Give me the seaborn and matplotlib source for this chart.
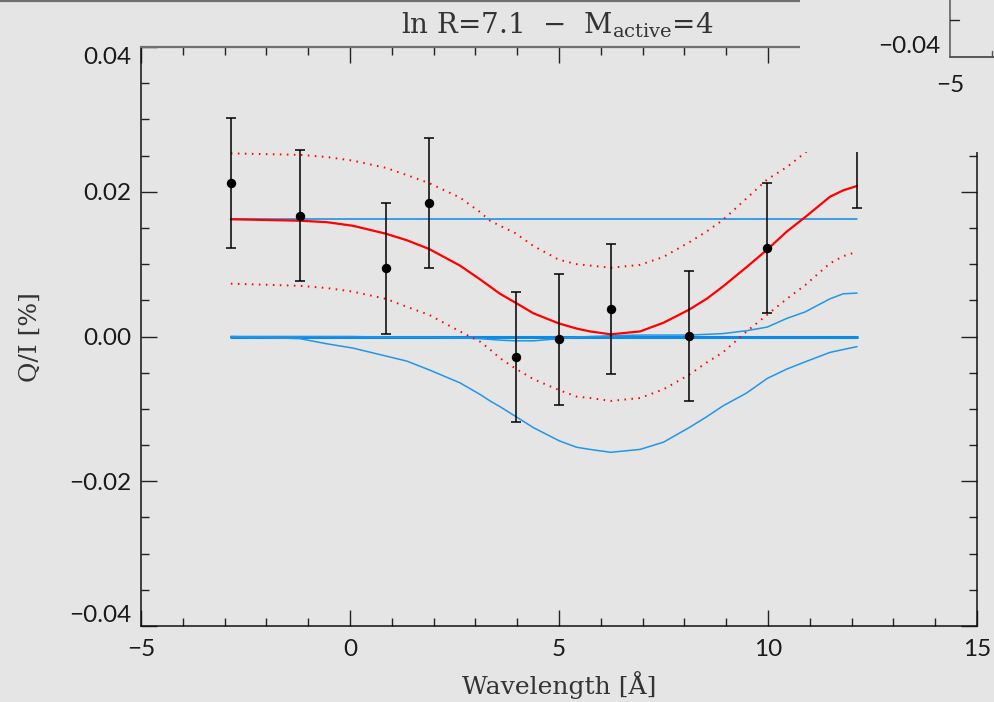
import matplotlib
matplotlib.use("Agg")
import matplotlib.pyplot as plt
import seaborn as sns
from matplotlib.patches import Rectangle
from matplotlib.lines import Line2D
from matplotlib.ticker import MultipleLocator

# ---------------- data ----------------
x_obs = [-2.85, -1.20, 0.86, 1.89, 3.96, 5.01, 6.25, 8.10, 9.98, 12.12]
y_obs = [0.0212, 0.0167, 0.0094, 0.0184, -0.0028, -0.0004, 0.0038, 0.0001, 0.0122, 0.0268]
err_obs = [0.0090, 0.0090, 0.0090, 0.0090, 0.0090, 0.0090, 0.0090, 0.0090, 0.0090, 0.0090]

x_model = [-2.85, -1.20, -0.56, 0.07, 0.86, 1.36, 1.89, 2.63, 3.11, 3.35,
           3.59, 3.95, 4.39, 5.00, 5.42, 5.74, 6.24, 6.94, 7.50, 8.11,
           8.53, 8.92, 9.49, 9.98, 10.45, 10.89, 11.48, 11.80, 12.13]
model_fit = [0.0162, 0.0160, 0.0158, 0.0153, 0.0142, 0.0133, 0.0121, 0.0098, 0.0079, 0.0069,
             0.0059, 0.0047, 0.0032, 0.0018, 0.0011, 0.0007, 0.0003, 0.0007, 0.0019, 0.0037,
             0.0052, 0.0069, 0.0096, 0.0120, 0.0145, 0.0165, 0.0193, 0.0202, 0.0208]
model_upper = [0.0253, 0.0251, 0.0248, 0.0243, 0.0233, 0.0223, 0.0212, 0.0192, 0.0172, 0.0160,
               0.0153, 0.0143, 0.0125, 0.0106, 0.0100, 0.0098, 0.0095, 0.0099, 0.0110, 0.0130,
               0.0145, 0.0161, 0.0191, 0.0217, 0.0234, 0.0254, 0.0283, 0.0292, 0.0298]
model_lower = [0.0073, 0.0070, 0.0067, 0.0062, 0.0052, 0.0041, 0.0030, 0.0007, -0.0007, -0.0018,
               -0.0030, -0.0044, -0.0059, -0.0074, -0.0083, -0.0085, -0.0089, -0.0085, -0.0073, -0.0053,
               -0.0036, -0.0022, 0.0007, 0.0030, 0.0052, 0.0071, 0.0101, 0.0111, 0.0117]
blue_curve_a = [0.0000, 0.0000, 0.0000, 0.0000, -0.0001, -0.0001, -0.0001, -0.0002, -0.0003, -0.0004,
                -0.0005, -0.0006, -0.0006, -0.0003, -0.0001, 0.0000, 0.0001, 0.0002, 0.0002, 0.0002,
                0.0003, 0.0004, 0.0008, 0.0013, 0.0025, 0.0034, 0.0052, 0.0059, 0.0060]
blue_curve_b = [0.0000, -0.0003, -0.0010, -0.0016, -0.0027, -0.0034, -0.0046, -0.0064, -0.0080, -0.0089,
                -0.0097, -0.0110, -0.0126, -0.0144, -0.0153, -0.0156, -0.0160, -0.0156, -0.0146, -0.0126,
                -0.0111, -0.0096, -0.0078, -0.0058, -0.0045, -0.0035, -0.0022, -0.0018, -0.0014]
blue_level_high = 0.0163
blue_level_zero = 0.0

xticks = [-5, 0, 5, 10, 15]
xtick_labels = ["\u22125", "0", "5", "10", "15"]
yticks = [-0.04, -0.02, 0.0, 0.02, 0.04]
ytick_labels = ["\u22120.04", "\u22120.02", "0.00", "0.02", "0.04"]
title_text = r"ln R=7.1  $-$  M$_{\mathrm{active}}$=4"
xlabel_text = "Wavelength [\u00c5]"
ylabel_text = "Q/I [%]"

# ---------------- style ----------------
sns.set_style("ticks")
plt.rcParams['font.family'] = ['DejaVu Sans']
plt.rcParams['mathtext.fontset'] = 'dejavuserif'
BG = '#e5e5e5'
RED = '#ff0000'
BLUE = '#0a8ce6'
SERIF = 'DejaVu Serif'
TICKFONT = dict(family=['Lato', 'DejaVu Sans'], weight='normal', size=17.5)

W, H = 994, 702
fig = plt.figure(figsize=(W / 100, H / 100), dpi=100, facecolor=BG)
ax = fig.add_axes([141 / W, 76 / H, 836 / W, 579 / H])
ax.set_facecolor(BG)

# curves
sns.lineplot(x=x_model, y=model_fit, color=RED, lw=1.6, ax=ax, sort=False, estimator=None, zorder=3)
sns.lineplot(x=x_model, y=model_upper, color=RED, lw=1.4, ls=(0, (0.8, 2.8)), ax=ax,
             sort=False, estimator=None, zorder=3)
sns.lineplot(x=x_model, y=model_lower, color=RED, lw=1.4, ls=(0, (0.8, 2.8)), ax=ax,
             sort=False, estimator=None, zorder=3)
sns.lineplot(x=[x_model[0], x_model[-1]], y=[blue_level_high, blue_level_high], color=BLUE,
             lw=1.1, ax=ax, sort=False, estimator=None, zorder=2)
sns.lineplot(x=[x_model[0], x_model[-1]], y=[blue_level_zero, blue_level_zero], color=BLUE,
             lw=2.2, ax=ax, sort=False, estimator=None, zorder=2)
sns.lineplot(x=x_model, y=blue_curve_a, color='#2196e8', lw=1.1, ax=ax, sort=False,
             estimator=None, zorder=2)
sns.lineplot(x=x_model, y=blue_curve_b, color='#2196e8', lw=1.1, ax=ax, sort=False,
             estimator=None, zorder=2)

# observations
ax.errorbar(x_obs, y_obs, yerr=err_obs, fmt='none', ecolor='black', elinewidth=1.1,
            capsize=3.3, capthick=1.1, zorder=4)
sns.scatterplot(x=x_obs, y=y_obs, color='black', s=46, edgecolor='black', linewidth=0,
                ax=ax, zorder=5)

# axes
ax.set_xlim(-5, 15)
ax.set_ylim(-0.04, 0.04)
ax.set_xticks(xticks, xtick_labels)
ax.set_yticks(yticks, ytick_labels)
ax.xaxis.set_minor_locator(MultipleLocator(1))
ax.yaxis.set_minor_locator(MultipleLocator(0.005))
ax.tick_params(which='both', direction='in', top=True, right=True, width=1.0, color='#222222',
               labelcolor='#1a1a1a')
ax.tick_params(which='major', length=11.5)
ax.tick_params(which='minor', length=5.8)
ax.tick_params(axis='y', pad=7)
ax.tick_params(axis='x', pad=9)
for lab in ax.get_xticklabels() + ax.get_yticklabels():
    lab.set_fontfamily(TICKFONT['family'])
    lab.set_fontweight(TICKFONT['weight'])
    lab.set_fontsize(TICKFONT['size'])
ylabs = ax.get_yticklabels()
ylabs[0].set_va('bottom')
ylabs[-1].set_va('top')
ax.set_xlabel("")
ax.set_ylabel("")
for side in ['left', 'bottom', 'right']:
    ax.spines[side].set_color('#111111')
    ax.spines[side].set_linewidth(1.1)
ax.spines['top'].set_color('#707070')
ax.spines['top'].set_linewidth(1.6)

# texts
fig.text(557 / W, 1 - 25 / H, title_text, ha='center', va='center', fontsize=20,
         family=SERIF, color='#333333')
fig.text(559 / W, 1 - 685 / H, xlabel_text, ha='center', va='center', fontsize=18,
         family=SERIF, color='#333333')
fig.text(30 / W, 1 - 337 / H, ylabel_text, ha='center', va='center', rotation=90,
         fontsize=18, family=SERIF, color='#333333')

# top strip line (neighbouring panel) and top-right overlay corner
fig.add_artist(Line2D([0, 800 / W], [1 - 0.8 / H, 1 - 0.8 / H], transform=fig.transFigure,
                      color='#707070', lw=1.6))
fig.add_artist(Rectangle((800 / W, 1 - 152 / H), 194 / W, 152 / H, transform=fig.transFigure,
                         facecolor=BG, edgecolor='none', zorder=10))
fig.add_artist(Line2D([950 / W, 950 / W], [1, 1 - 57 / H], transform=fig.transFigure,
                      color='#555555', lw=1.1, zorder=11))
fig.add_artist(Line2D([950 / W, 1], [1 - 57 / H, 1 - 57 / H], transform=fig.transFigure,
                      color='#555555', lw=1.4, zorder=11))
fig.add_artist(Line2D([950 / W, 959 / W], [1 - 20 / H, 1 - 20 / H], transform=fig.transFigure,
                      color='#222222', lw=1.0, zorder=11))
fig.add_artist(Line2D([992 / W, 992 / W], [1 - 57 / H, 1 - 51 / H], transform=fig.transFigure,
                      color='#555555', lw=1.0, zorder=11))
fig.text(940 / W, 1 - 57 / H, "\u22120.04", ha='right', va='bottom', color='#1a1a1a', zorder=12,
         fontfamily=TICKFONT['family'], fontweight=TICKFONT['weight'], fontsize=TICKFONT['size'])
fig.text(950 / W, 1 - 85 / H, "\u22125", ha='center', va='center', color='#1a1a1a', zorder=12,
         fontfamily=TICKFONT['family'], fontweight=TICKFONT['weight'], fontsize=TICKFONT['size'])

fig.savefig("out.png", dpi=100, facecolor=BG)
